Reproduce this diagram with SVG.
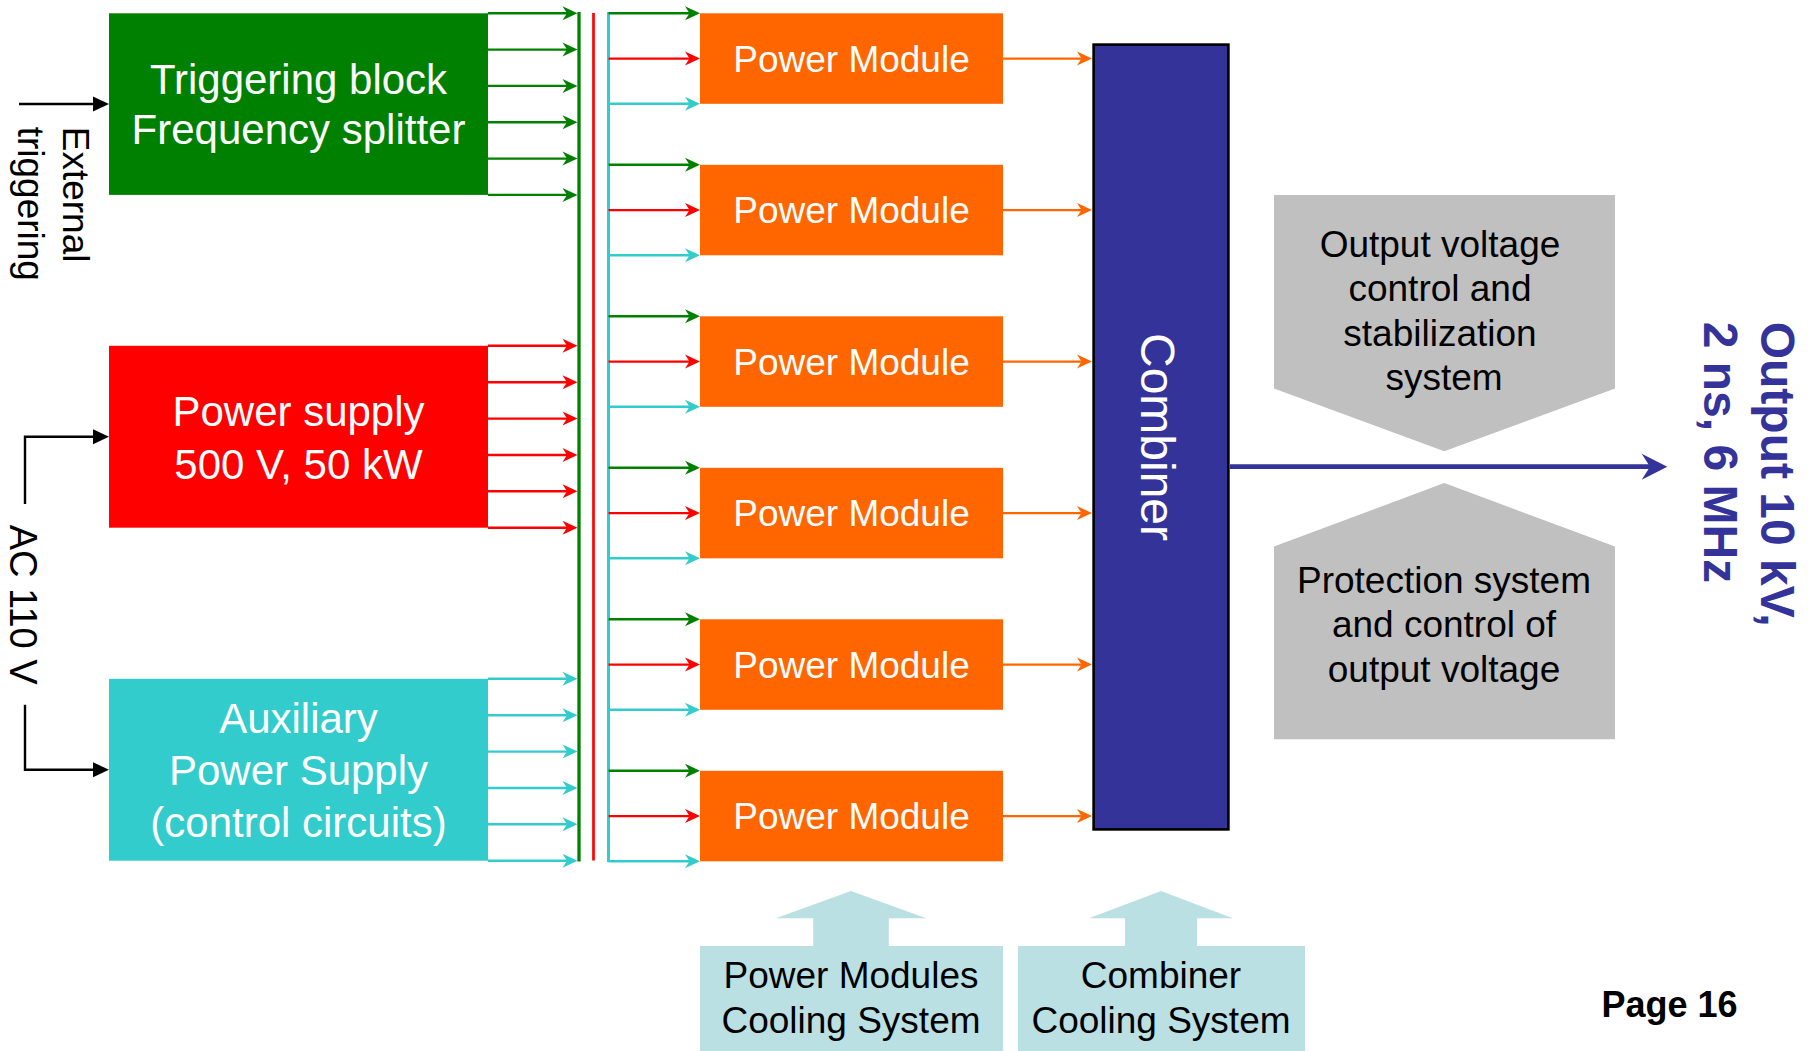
<svg xmlns="http://www.w3.org/2000/svg" width="1809" height="1051" viewBox="0 0 1809 1051">
<defs>
<style>
.t{font-family:"Liberation Sans",Arial,sans-serif}
.w42{fill:#fff;font-size:42px}
.w37{fill:#fff;font-size:37px}
.b37{fill:#000;font-size:37px}
.ln{fill:none;stroke-width:2.4}
.g{stroke:#008000}.r{stroke:#FF0000}.c{stroke:#33CCCC}.o{stroke:#FF6600}.k{stroke:#000}
</style>
<marker id="ag" viewBox="0 0 16 16" refX="8" refY="8" markerWidth="16" markerHeight="16" markerUnits="userSpaceOnUse" orient="auto"><path d="M1,1 L16,8 L1,15 L5.5,8 Z" fill="#008000"/></marker>
<marker id="ar" viewBox="0 0 16 16" refX="8" refY="8" markerWidth="16" markerHeight="16" markerUnits="userSpaceOnUse" orient="auto"><path d="M1,1 L16,8 L1,15 L5.5,8 Z" fill="#FF0000"/></marker>
<marker id="ac" viewBox="0 0 16 16" refX="8" refY="8" markerWidth="16" markerHeight="16" markerUnits="userSpaceOnUse" orient="auto"><path d="M1,1 L16,8 L1,15 L5.5,8 Z" fill="#33CCCC"/></marker>
<marker id="ao" viewBox="0 0 16 16" refX="8" refY="8" markerWidth="16" markerHeight="16" markerUnits="userSpaceOnUse" orient="auto"><path d="M1,1 L16,8 L1,15 L5.5,8 Z" fill="#FF6600"/></marker>
<marker id="ak" viewBox="0 0 16 16" refX="8" refY="8" markerWidth="16" markerHeight="16" markerUnits="userSpaceOnUse" orient="auto"><path d="M0,0.5 L16,8 L0,15.5 Z" fill="#000"/></marker>
</defs>
<rect width="1809" height="1051" fill="#fff"/>

<g id="triggering-block">
<rect x="109" y="13.3" width="379" height="181.6" fill="#008000"/>
<text class="t w42" x="298.5" y="94.3" text-anchor="middle">Triggering block</text>
<text class="t w42" x="298.5" y="144.3" text-anchor="middle">Frequency splitter</text>
</g>
<g id="power-supply">
<rect x="109" y="345.8" width="379" height="181.9" fill="#FF0000"/>
<text class="t w42" x="298.5" y="426.4" text-anchor="middle">Power supply</text>
<text class="t w42" x="298.5" y="478.8" text-anchor="middle">500 V, 50 kW</text>
</g>
<g id="auxiliary-power-supply">
<rect x="109" y="678.8" width="379" height="181.9" fill="#33CCCC"/>
<text class="t w42" x="298.5" y="732.9" text-anchor="middle">Auxiliary</text>
<text class="t w42" x="298.5" y="785.2" text-anchor="middle">Power Supply</text>
<text class="t w42" x="298.5" y="836.9" text-anchor="middle">(control circuits)</text>
</g>

<g id="power-module-1"><rect x="700" y="13.3" width="303" height="90.5" fill="#FF6600"/><text class="t w37" x="851.5" y="71.8" text-anchor="middle">Power Module</text></g>
<g id="power-module-2"><rect x="700" y="164.8" width="303" height="90.5" fill="#FF6600"/><text class="t w37" x="851.5" y="223.3" text-anchor="middle">Power Module</text></g>
<g id="power-module-3"><rect x="700" y="316.3" width="303" height="90.5" fill="#FF6600"/><text class="t w37" x="851.5" y="374.8" text-anchor="middle">Power Module</text></g>
<g id="power-module-4"><rect x="700" y="467.8" width="303" height="90.5" fill="#FF6600"/><text class="t w37" x="851.5" y="526.3" text-anchor="middle">Power Module</text></g>
<g id="power-module-5"><rect x="700" y="619.3" width="303" height="90.5" fill="#FF6600"/><text class="t w37" x="851.5" y="677.8" text-anchor="middle">Power Module</text></g>
<g id="power-module-6"><rect x="700" y="770.8" width="303" height="90.5" fill="#FF6600"/><text class="t w37" x="851.5" y="829.3" text-anchor="middle">Power Module</text></g>

<g id="combiner">
<rect x="1093.6" y="44.6" width="134.8" height="784.8" fill="#333399" stroke="#000" stroke-width="2.6"/>
<text class="t" x="0" y="0" transform="translate(1141,437) rotate(90)" text-anchor="middle" fill="#fff" font-size="48">Combiner</text>
</g>

<g id="output-voltage-control">
<polygon points="1274,195 1615,195 1615,388.4 1444.3,451.3 1274,388.4" fill="#C0C0C0"/>
<text class="t b37" x="1440" y="256.8" text-anchor="middle">Output voltage</text>
<text class="t b37" x="1440" y="301.4" text-anchor="middle">control and</text>
<text class="t b37" x="1440" y="345.7" text-anchor="middle">stabilization</text>
<text class="t b37" x="1444" y="390.4" text-anchor="middle">system</text>
</g>
<g id="protection-system">
<polygon points="1444.3,483 1615,546.6 1615,739.2 1274,739.2 1274,546.6" fill="#C0C0C0"/>
<text class="t b37" x="1444" y="592.9" text-anchor="middle">Protection system</text>
<text class="t b37" x="1444" y="637.1" text-anchor="middle">and control of</text>
<text class="t b37" x="1444" y="681.8" text-anchor="middle">output voltage</text>
</g>

<g id="output-label" fill="#333399" font-weight="bold" font-size="48">
<text class="t" transform="translate(1761,321.7) rotate(90)">Output 10 kV,</text>
<text class="t" transform="translate(1704,321.7) rotate(90)">2 ns, 6 MHz</text>
</g>

<g id="external-triggering" font-size="37" fill="#000">
<text class="t" transform="translate(63,126.7) rotate(90)">External</text>
<text class="t" transform="translate(18,126.7) rotate(90)">triggering</text>
</g>
<g id="ac-110v">
<text class="t" transform="translate(9.5,604.7) rotate(90)" text-anchor="middle" font-size="38" fill="#000">AC 110 V</text>
</g>

<g id="pm-cooling">
<polygon points="813.2,946 813.2,918.3 775.8,918.3 851,891 926.2,918.3 888.8,918.3 888.8,946" fill="#BBE0E3"/>
<rect x="700" y="946" width="303" height="105" fill="#BBE0E3"/>
<text class="t b37" x="851" y="988.3" text-anchor="middle">Power Modules</text>
<text class="t b37" x="851" y="1033.3" text-anchor="middle">Cooling System</text>
</g>
<g id="combiner-cooling">
<polygon points="1125,946 1125,918.3 1089,918.3 1161,891 1233,918.3 1197,918.3 1197,946" fill="#BBE0E3"/>
<rect x="1018" y="946" width="287" height="105" fill="#BBE0E3"/>
<text class="t b37" x="1161" y="988.3" text-anchor="middle">Combiner</text>
<text class="t b37" x="1161" y="1033.3" text-anchor="middle">Cooling System</text>
</g>

<g id="page-number"><text class="t" x="1601.5" y="1016.7" font-size="36" font-weight="bold" fill="#000">Page 16</text></g>

<g id="connectors">
<!-- buses -->
<line x1="579" y1="12" x2="579" y2="861.5" stroke="#008000" stroke-width="3.3"/>
<line x1="593.5" y1="13" x2="593.5" y2="860.5" stroke="#FF0000" stroke-width="2.7"/>
<line x1="608.5" y1="12" x2="608.5" y2="862" stroke="#33CCCC" stroke-width="3"/>
<!-- block outputs to bus -->
<g class="ln g" marker-end="url(#ag)">
<path d="M488,13.3H569.5"/><path d="M488,49.6H569.5"/><path d="M488,85.9H569.5"/><path d="M488,122.2H569.5"/><path d="M488,158.6H569.5"/><path d="M488,194.9H569.5"/>
</g>
<g class="ln r" marker-end="url(#ar)">
<path d="M488,345.8H569.5"/><path d="M488,382.2H569.5"/><path d="M488,418.6H569.5"/><path d="M488,455H569.5"/><path d="M488,491.3H569.5"/><path d="M488,527.7H569.5"/>
</g>
<g class="ln c" marker-end="url(#ac)">
<path d="M488,678.8H569.5"/><path d="M488,715.2H569.5"/><path d="M488,751.6H569.5"/><path d="M488,788H569.5"/><path d="M488,824.3H569.5"/><path d="M488,860.7H569.5"/>
</g>
<!-- bus to power modules -->
<g class="ln g" marker-end="url(#ag)">
<path d="M608.5,13.3H692"/><path d="M608.5,164.8H692"/><path d="M608.5,316.3H692"/><path d="M608.5,467.8H692"/><path d="M608.5,619.3H692"/><path d="M608.5,770.8H692"/>
</g>
<g class="ln r" marker-end="url(#ar)">
<path d="M608.5,58.6H692"/><path d="M608.5,210.1H692"/><path d="M608.5,361.6H692"/><path d="M608.5,513.1H692"/><path d="M608.5,664.6H692"/><path d="M608.5,816.1H692"/>
</g>
<g class="ln c" marker-end="url(#ac)">
<path d="M608.5,103.8H692"/><path d="M608.5,255.3H692"/><path d="M608.5,406.8H692"/><path d="M608.5,558.3H692"/><path d="M608.5,709.8H692"/><path d="M608.5,861.3H692"/>
</g>
<!-- power modules to combiner -->
<g class="ln o" marker-end="url(#ao)">
<path d="M1003,58.6H1084"/><path d="M1003,210.1H1084"/><path d="M1003,361.6H1084"/><path d="M1003,513.1H1084"/><path d="M1003,664.6H1084"/><path d="M1003,816.1H1084"/>
</g>
<!-- external inputs -->
<g class="ln k" marker-end="url(#ak)">
<path d="M19,104H101"/>
<path d="M25,504V436.8H101"/>
<path d="M25,704.7V769.7H101"/>
</g>
<!-- output -->
<line x1="1230" y1="466.7" x2="1652" y2="466.7" stroke="#333399" stroke-width="4.7"/>
<path d="M1667.3,466.7 L1641.7,453.7 L1650,466.7 L1641.7,479.7 Z" fill="#333399"/>
</g>
</svg>
